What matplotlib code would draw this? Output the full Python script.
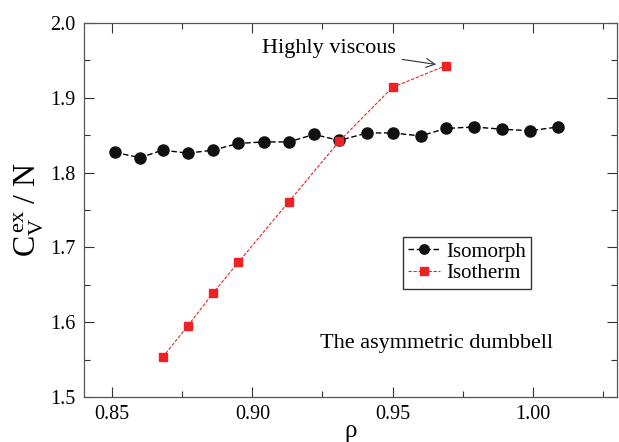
import matplotlib
matplotlib.use("Agg")
import matplotlib.pyplot as plt
from matplotlib.ticker import MultipleLocator, FormatStrFormatter

plt.rcParams["font.family"] = ["Liberation Serif", "DejaVu Serif"]
plt.rcParams["mathtext.fontset"] = "custom"
plt.rcParams["mathtext.rm"] = "Liberation Serif"
plt.rcParams["mathtext.it"] = "Liberation Serif:italic"

# isomorph: density vs excess heat capacity
rho_iso = [0.851, 0.860, 0.868, 0.877, 0.886, 0.895, 0.904, 0.913, 0.922,
           0.931, 0.941, 0.950, 0.960, 0.969, 0.979, 0.989, 0.999, 1.009]
cv_iso = [1.827, 1.820, 1.830, 1.826, 1.830, 1.839, 1.841, 1.841, 1.851,
          1.843, 1.853, 1.853, 1.849, 1.859, 1.861, 1.858, 1.856, 1.861]

# isotherm
rho_ist = [0.868, 0.877, 0.886, 0.895, 0.913, 0.931, 0.950, 0.969]
cv_ist = [1.553, 1.595, 1.639, 1.680, 1.761, 1.842, 1.914, 1.943]

fig = plt.figure(figsize=(6.19, 4.42), dpi=100)
ax = fig.add_axes([0.1357, 0.1018, 0.8611, 0.8462])

ax.plot(rho_iso, cv_iso, color="black", ls=(0, (4, 2)), lw=1.0,
        marker="o", ms=8, mfc="#111111", mec="#111111", label="Isomorph", zorder=2)
ax.plot(rho_ist, cv_ist, color="#ee2222", ls=(0, (3, 1.5)), lw=0.8,
        marker="s", ms=6, mfc="#ee2222", mec="#ee2222", label="Isotherm", zorder=3)

ax.set_xlim(0.84, 1.03)
ax.set_ylim(1.5, 2.0)
ax.xaxis.set_major_locator(MultipleLocator(0.05))
ax.xaxis.set_minor_locator(MultipleLocator(0.025))
ax.yaxis.set_major_locator(MultipleLocator(0.1))
ax.yaxis.set_minor_locator(MultipleLocator(0.05))
ax.xaxis.set_major_formatter(FormatStrFormatter("%.2f"))
ax.yaxis.set_major_formatter(FormatStrFormatter("%.1f"))
ax.tick_params(which="both", direction="in", top=True, right=True,
               labelsize=14.5, color="#333333", pad=6)
ax.tick_params(which="major", length=7, width=0.8)
ax.tick_params(which="minor", length=4, width=0.8)
for s in ax.spines.values():
    s.set_color("#555555")
    s.set_linewidth(0.9)

ax.set_xlabel("ρ", fontsize=18, labelpad=-3)
ax.set_ylabel(r"$\mathrm{C_V^{\,ex}\ /\ N}$", fontsize=23, labelpad=3)

ax.legend(loc="upper left", bbox_to_anchor=(0.599, 0.428), fontsize=15,
          frameon=True, fancybox=False, edgecolor="#333333", framealpha=1,
          handlelength=1.5, handletextpad=0.3, borderpad=0.25,
          labelspacing=0.1, borderaxespad=0, markerscale=0.85)

ax.annotate("Highly viscous", xy=(0.9665, 1.944), xytext=(0.951, 1.966),
            fontsize=16, ha="right", va="center",
            arrowprops=dict(arrowstyle="->", color="#333333", lw=0.8,
                            shrinkA=3, shrinkB=2))
ax.text(0.924, 1.566, "The asymmetric dumbbell", fontsize=16)

fig.savefig("out.png", dpi=100)
